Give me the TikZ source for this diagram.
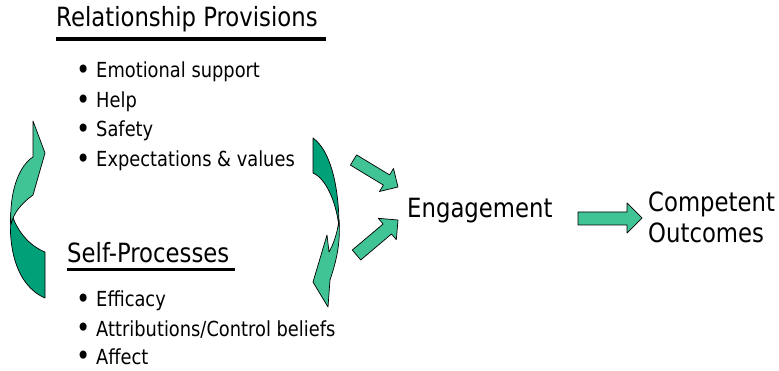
\documentclass[tikz,border=0pt]{standalone}
\usepackage{fontspec}
\setmainfont{DejaVu Sans}[FakeStretch=0.86]
\definecolor{armlight}{RGB}{64,196,150}
\definecolor{armdark}{RGB}{0,160,120}
\newcommand{\itembullet}{\llap{\raisebox{-1.6pt}{\scalebox{1.35}{\textbullet}}\hspace{5pt}}}

\begin{document}
\begin{tikzpicture}[x=0.03cm,y=-0.03cm,
    heading/.style={anchor=base west,inner sep=0pt,font=\fontsize{22.6}{27}\selectfont},
    item/.style={anchor=base west,inner sep=0pt,font=\fontsize{17.7}{21}\selectfont},
    front/.style={draw=black,line width=0.6pt,fill=armlight,line join=round},
    back/.style={draw=black,line width=0.6pt,fill=armdark,line join=round}]
  \useasboundingbox (0,0) rectangle (779,371);

  % upper block
  \node[heading] (rel) at (56,27) {Relationship Provisions};
  \draw[line width=2.6pt] (56,39) -- (326,39);
  \node[item] (emo) at (96,78) {\itembullet Emotional support};
  \node[item] (help) at (96,108) {\itembullet Help};
  \node[item] (safe) at (96,137) {\itembullet Safety};
  \node[item] (expect) at (96,167) {\itembullet Expectations \& values};

  % lower block
  \node[heading] (self) at (67,263) {Self-Processes};
  \draw[line width=2.4pt] (67,269.5) -- (235,269.5);
  \node[item] (eff) at (96,307) {\itembullet Efficacy};
  \node[item] (attr) at (96,336) {\itembullet Attributions/Control beliefs};
  \node[item] (aff) at (96,364) {\itembullet Affect};

  \node[heading] (eng) at (407,218) {Engagement};
  \node[heading] (comp) at (648,212) {Competent};
  \node[heading] (outc) at (648,243) {Outcomes};

  % left curved arrow, back then front
  \draw[back] (11,212) .. controls (8,245) and (15,285) .. (45,298)
    -- (45,252) .. controls (30,246) and (17,232) .. (11,212) -- cycle;
  \draw[front] (33,121) -- (45,153) -- (33,195)
    .. controls (22,203) and (13,213) .. (11,225)
    .. controls (9,190) and (20,165) .. (33,157) -- cycle;

  % right curved arrow
  \draw[back] (313,138) .. controls (330,150) and (339,185) .. (339,227)
    .. controls (336,200) and (325,178) .. (313,173) -- cycle;
  \draw[front] (339,220) .. controls (341,245) and (335,265) .. (330,280)
    -- (328,307) -- (313,282) -- (327,235) -- (329,252)
    .. controls (333,245) and (337,235) .. (339,220) -- cycle;

  % straight block arrows
  \draw[front] (350.4,165.1) -- (383.4,185.1) -- (379.5,191.5) -- (398,187)
    -- (393.5,168.5) -- (389.6,174.9) -- (356.6,154.9) -- cycle;
  \draw[front] (352.3,250) -- (383.1,224) -- (378.3,218.3) -- (398,220)
    -- (396.3,239.7) -- (391.5,234) -- (360.7,260) -- cycle;
  \draw[front] (578,212) -- (627,212) -- (627,203) -- (642,218)
    -- (627,233) -- (627,225) -- (578,225) -- cycle;
\end{tikzpicture}
\end{document}
